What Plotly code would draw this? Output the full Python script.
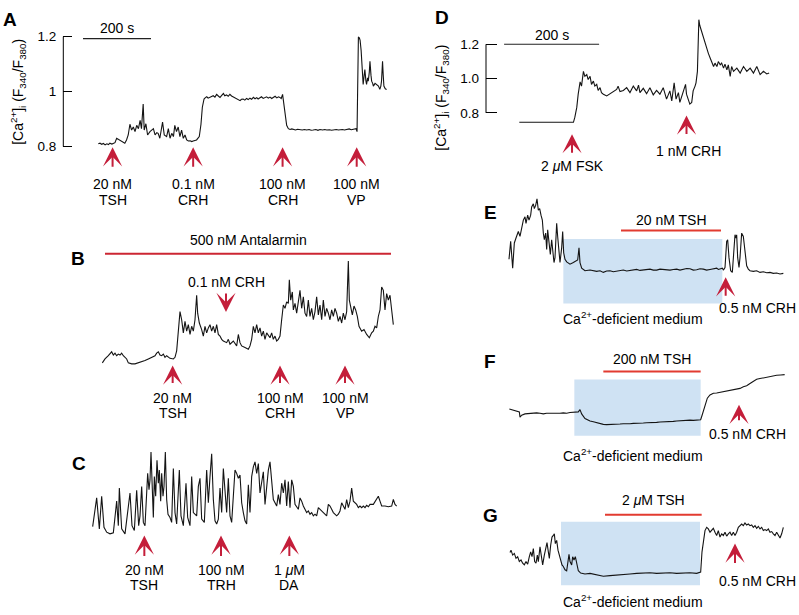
import plotly.graph_objects as go

W, H = 799, 615
FONT = "Liberation Sans, Arial, Helvetica, sans-serif"
ARROW_RED = "#c41e3a"
BAR_RED_B = "#cc2633"
BAR_RED = "#e23b30"
BLUE = "#cfe2f3"

# ---------------- data ----------------
# Panel A: time (s) and [Ca2+]i ratio F340/F380
A_t = [0, 5, 10, 15, 20, 25, 30, 34, 40, 44, 49, 54, 59, 64, 69, 74, 78, 83, 88, 93, 98, 103, 108, 113,
       118, 123, 127, 132, 135, 140, 145, 152, 157, 162, 167, 172, 176, 181, 189, 194, 201, 206, 211,
       216, 221, 225, 230, 235, 240, 245, 250, 255, 260, 265, 270, 275, 279, 284, 289, 297, 302, 306,
       311, 315, 319, 323, 328, 333, 338, 343, 348, 353, 358, 363, 368, 372, 377, 382, 387, 392, 397,
       402, 407, 412, 417, 421, 426, 431, 436, 441, 446, 451, 456, 461, 466, 470, 475, 480, 485, 490,
       495, 500, 505, 510, 515, 520, 525, 530, 534, 538, 542, 546, 550, 554, 559, 564, 569, 574, 580,
       586, 593, 600, 606, 613, 620, 626, 632, 640, 646, 652, 660, 666, 672, 680, 686, 691, 700, 706,
       711, 718, 724, 730, 738, 744, 750, 755, 758, 761, 763, 765, 768, 770, 773, 775, 777, 779, 782,
       784, 787, 789, 792, 794, 797, 799, 802, 804, 807, 809, 814, 819, 824, 828, 831, 833, 836, 838,
       840, 844, 848]
A_ratio = [.810, .812, .808, .811, .806, .810, .807, .812, .809, .810, .814, .830, .826, .822, .821, .816,
           .812, .824, .842, .881, .860, .871, .854, .877, .865, .895, .865, .955, .860, .883, .842, .854,
           .860, .865, .842, .850, .848, .830, .889, .842, .836, .865, .830, .848, .836, .877, .854, .871,
           .836, .860, .830, .842, .824, .820, .821, .818, .820, .821, .824, .836, .881, .943, .973, .978,
           .981, .976, .979, .983, .985, .980, .990, .984, .979, .986, .993, .985, .988, .983, .990, .984,
           .981, .976, .973, .970, .967, .972, .973, .969, .975, .971, .976, .972, .979, .974, .978, .973,
           .976, .981, .975, .979, .981, .976, .980, .975, .979, .983, .977, .981, .979, .975, .990, .955,
           .907, .877, .865, .862, .864, .862, .860, .863, .862, .860, .862, .860, .862, .859, .860, .862,
           .859, .862, .860, .862, .860, .861, .859, .860, .862, .860, .861, .862, .860, .862, .864, .861,
           .863, .862, .865, .854, 1.014, 1.199, 1.195, 1.187, 1.150, 1.098, 1.060, 1.026, 1.060, 1.080,
           1.040, 1.026, 1.050, 1.038, 1.070, 1.110, 1.060, 1.038, 1.030, 1.020, 1.030, 1.026, 1.020,
           1.008, 1.020, 1.038, 1.110, 1.060, 1.020, 1.010, 1.008]
A_ticks = [0.8, 1.0, 1.2]
A_ticktext = ["0.8", "1", "1.2"]
A_scalebar_s = [-45, 155]
A_arrow_t = [42, 279, 542, 760]
A_arrow_lbl = [("20 nM", "TSH"), ("0.1 nM", "CRH"), ("100 nM", "CRH"), ("100 nM", "VP")]

# Panel B: time (s), amplitude (a.u.)
B_t = [0, 8, 18, 23, 28, 33, 38, 43, 48, 53, 58, 63, 68, 73, 78, 88, 98, 108, 118, 128, 138, 148, 158,
       163, 168, 173, 178, 183, 188, 193, 198, 203, 213, 218, 223, 228, 233, 238, 243, 248, 253, 258,
       263, 268, 273, 278, 283, 286, 291, 298, 303, 308, 313, 318, 323, 328, 333, 338, 343, 348, 353,
       358, 363, 373, 378, 383, 393, 403, 408, 413, 418, 428, 438, 443, 448, 453, 458, 463, 468, 473,
       478, 483, 488, 493, 498, 503, 508, 513, 518, 523, 528, 533, 538, 543, 548, 553, 558, 561, 565,
       570, 573, 578, 583, 588, 593, 598, 603, 608, 613, 618, 623, 628, 633, 638, 643, 648, 653, 658,
       663, 668, 673, 678, 683, 688, 693, 698, 703, 708, 713, 718, 723, 728, 733, 738, 741, 745, 750,
       755, 760, 765, 770, 778, 785, 793, 801, 808, 813, 818, 823, 828, 833, 838, 843, 848, 853, 858,
       863, 868, 873]
B_amp = [-2, 10, 20, 28, 32, 22, 28, 20, 25, 22, 28, 20, 15, 10, -2, -5, -5, -2, 0, 5, 10, 15, 20, 28,
         32, 22, 20, 25, 15, 20, 15, 12, 10, 15, 35, 90, 155, 130, 90, 125, 95, 115, 85, 110, 95, 130,
         205, 150, 120, 100, 80, 110, 90, 105, 115, 95, 110, 90, 115, 85, 80, 70, 65, 60, 70, 55, 65,
         50, 85, 60, 50, 45, 40, 50, 70, 110, 90, 115, 90, 105, 80, 95, 70, 90, 80, 75, 90, 70, 80, 65,
         70, 80, 130, 175, 165, 185, 180, 252, 190, 215, 160, 180, 150, 185, 220, 165, 200, 150, 140,
         190, 140, 165, 130, 155, 200, 145, 175, 130, 190, 140, 165, 150, 130, 160, 140, 165, 150, 125,
         140, 120, 150, 130, 155, 310, 190, 170, 145, 172, 160, 140, 110, 95, 100, 85, 75, 90, 95, 110,
         105, 140, 160, 230, 220, 160, 210, 190, 205, 160, 115]
B_antalarmin_s = [8, 866]
B_crh_down_t = 371
B_arrow_t = [211, 533, 728]
B_arrow_lbl = [("20 nM", "TSH"), ("100 nM", "CRH"), ("100 nM", "VP")]

# Panel C: time (s), amplitude (a.u.)
C_t = [0, 12, 20, 27, 34, 42, 52, 62, 72, 77, 80, 87, 97, 107, 112, 118, 125, 132, 138, 142, 147, 152,
       157, 162, 165, 169, 172, 175, 179, 182, 185, 189, 193, 197, 200, 204, 207, 211, 214, 218, 222,
       226, 232, 237, 242, 247, 252, 260, 265, 272, 280, 285, 292, 297, 302,
       312, 317, 322, 327, 335, 342, 347, 352, 357, 362, 367, 372, 377, 382, 387, 392, 397, 402, 407,
       412, 417, 422, 427, 432, 437, 442, 447, 452, 457, 462, 467, 472, 477, 482, 487, 492, 497, 502,
       507, 512, 517, 522, 527, 532, 537, 542, 547, 552, 557, 562, 567, 572, 577, 582, 587, 592, 597,
       602, 607, 617,
       622, 627, 632, 637, 642, 647, 652, 657, 662, 667, 672, 677, 682, 687, 692, 697, 702, 707, 712,
       717, 722, 732, 737, 742, 747, 752, 757, 762, 767, 772, 777, 782, 787, 792, 797, 802, 807, 812,
       817, 822, 827, 832, 842, 852, 857, 862, 867, 877, 887, 897, 902, 907, 912]
C_amp = [22, 110, 15, 115, 20, 5, 0, 3, 100, 25, 140, 15, 0, 95, 125, 25, 10, 133, 25, 55, 145, 35, 25,
         125, 185, 135, 165, 250, 115, 50, 175, 115, 225, 155, 195, 100, 185, 115, 145, 250, 105, 60,
         50, 35, 200, 65, 30, 195, 55, 25, 155, 50, 25, 175, 65,
         55, 145, 170, 45, 35, 195, 95, 175, 245, 105, 40, 30, 45, 140, 65, 200, 115, 65, 170, 55, 35,
         105, 195, 185, 170, 180, 95, 65, 40, 30, 150, 65, 175, 205, 220, 185, 215, 125, 165, 190, 90,
         155, 195, 220, 170, 105, 95, 85, 120, 90, 155, 125, 165, 85, 160, 80, 165, 145, 90, 75,
         110, 100, 85, 75, 65, 70, 60, 65, 55, 60, 55, 80, 75, 70, 65, 60, 55, 90, 85, 75, 65, 55, 60,
         70, 95, 85, 75, 105, 80, 100, 140, 100, 95, 90, 80, 85, 80, 85, 80, 87, 83, 90, 90, 105, 115,
         100, 85, 85, 83, 85, 105, 90, 85]
C_arrow_t = [155, 385, 590]
C_arrow_lbl = [("20 nM", "TSH"), ("100 nM", "TRH"), ("1 <i>\u03bc</i>M", "DA")]

# Panel D: time (s) and ratio
D_t = [0, 29, 65, 100, 114, 117, 121, 124, 128, 131, 135, 138, 142, 145, 149, 152, 156, 159, 163, 166,
       170, 173, 177, 184, 191, 198, 205, 208, 212, 219, 226, 233, 240, 247, 251, 254, 261, 268, 275,
       282, 289, 296, 303, 310, 317, 321, 326, 330, 335, 338, 344, 350, 352, 359, 363, 366, 370, 372,
       375, 378, 380, 384, 388, 391, 395, 398, 402, 405, 409, 412, 416, 419, 423, 426, 430, 433, 437,
       440, 444, 447, 451, 458, 465, 472, 479, 486, 493, 500, 507, 514, 521, 526]
D_ratio = [.745, .744, .745, .743, .745, .775, .832, .909, .981, .956, 1.042, 1.013, 1.023, .994, 1.013,
           .966, .985, .956, .966, .931, .947, .918, .909, .899, .912, .924, .937, .956, .924, .931, .947,
           .918, .956, .928, .962, .918, .943, .912, .947, .905, .931, .909, .947, .880, .928, .870, .975,
           .880, .918, .861, .918, .966, .909, .851, .861, .928, .956, .975, 1.042, 1.343, 1.309, 1.270,
           1.232, 1.204, 1.175, 1.147, 1.118, 1.099, 1.070, 1.090, 1.070, 1.099, 1.080, 1.090, 1.061,
           1.084, 1.051, 1.080, 1.013, 1.070, 1.042, 1.061, 1.032, 1.070, 1.042, 1.061, 1.032, 1.070,
           1.023, 1.042, 1.027, 1.032]
D_ticks = [0.8, 1.0, 1.2]
D_ticktext = ["0.8", "1.0", "1.2"]
D_scalebar_s = [-32, 168]
D_arrow_t = [111, 352]

# Panel E: time (s), amplitude (a.u.)
E_t = [0, 5, 11, 16, 21, 25, 28, 33, 38, 43, 48, 51, 56, 60, 65, 68, 73, 76, 80, 84, 88, 92, 96, 100,
       103, 106, 110, 113, 116, 120, 124, 128, 131, 135, 138, 143, 146, 150, 153, 158, 161, 164, 168,
       173, 183, 193, 201, 206, 210, 213, 218, 228, 243, 253, 263, 273, 283, 293, 303, 313, 323, 333,
       343, 353, 363, 373, 383, 393, 403, 413, 423, 433, 443, 453, 463, 473, 483, 493, 503, 513, 523,
       533, 543, 553, 563, 573, 583, 593, 603, 613, 623, 628, 633, 640, 643, 648, 653, 656, 660, 665,
       670, 673, 678, 681, 683, 686, 690, 693, 698, 703, 708, 713, 718, 723, 733, 743, 753, 763, 773,
       783, 793, 803, 813, 823]
E_amp = [40, 95, 13, 90, 105, 115, 125, 110, 140, 160, 170, 150, 175, 160, 175, 200, 210, 195, 205, 225,
         190, 195, 175, 160, 120, 100, 120, 70, 130, 85, 55, 100, 60, 30, 45, 150, 110, 45, 30, 75, 125,
         60, 40, 32, 25, 30, 35, 38, 75, 30, 13, 5, 7, 4, 3, 5, 0, 4, 5, 2, 3, 6, 7, 4, 5, 8, 9, 6, 7, 9,
         10, 7, 7, 10, 9, 6, 7, 9, 10, 7, 9, 12, 11, 7, 8, 11, 10, 7, 9, 11, 13, 9, 10, 13, 7, 15, 95,
         100, 45, 5, 0, 35, 115, 105, 115, 45, 15, 45, 120, 110, 55, 20, 10, 5, 3, 5, 0, 2, -1, 0, -3,
         -2, -5, -3]
E_medium_s = [163, 640]
E_tsh_s = [336, 636]
E_arrow_t = 650

# Panel F: time (s), amplitude (a.u.)
F_t = [0, 7, 17, 27, 30, 32, 37, 47, 62, 72, 82, 92, 102, 112, 122, 132, 142, 152, 162, 172, 182, 197,
       207, 212, 217, 227, 242, 252, 262, 272, 282, 292, 302, 312, 322, 332, 342, 352, 362, 372, 382,
       392, 402, 412, 422, 432, 442, 452, 462, 472, 482, 492, 502, 512, 522, 532, 542, 552, 562, 574,
       579, 587, 594, 602, 612, 622, 632, 642, 652, 662, 672, 682, 692, 702, 712, 722, 732, 742, 752,
       762, 772, 782, 792, 802, 814, 826]
F_amp = [57, 55, 52, 50, 48, 32, 38, 42, 44, 43, 45, 44, 42, 44, 44, 43, 42, 44, 45, 44, 46, 47, 48, 55,
         42, 28, 20, 18, 15, 13, 10, 9, 9, 10, 10, 11, 12, 11, 12, 13, 13, 12, 14, 15, 15, 14, 16, 17,
         17, 18, 19, 19, 20, 21, 22, 22, 23, 22, 23, 24, 40, 70, 90, 100, 105, 106, 108, 110, 112, 113,
         115, 117, 120, 125, 128, 135, 142, 148, 150, 152, 155, 158, 158, 160, 161, 162]
F_medium_s = [195, 574]
F_tsh_s = [282, 574]
F_arrow_t = 689

# Panel G: time (s), amplitude (a.u.)
G_t = [0, 3, 8, 13, 18, 23, 28, 33, 38, 43, 48, 53, 58, 62, 66, 70, 74, 78, 82, 85, 90, 94, 98, 103,
       107, 111, 115, 118, 122, 126, 130, 133, 136, 140, 144, 148, 152, 156, 160, 165, 170, 174, 177,
       180, 185, 188, 192, 196, 200, 205, 212, 225, 240, 260, 280, 300, 320, 340, 360, 380, 400, 420,
       440, 460, 480, 500, 520, 540, 560, 572, 576, 580, 585, 590, 595, 600, 605, 610, 615, 620, 625,
       630, 635, 640, 645, 650, 655, 660, 665, 670, 675, 680, 685, 690, 695, 700, 705, 710, 715, 720,
       725, 730, 735, 740, 745, 750, 755, 760, 765, 770, 775, 780, 785, 790, 795, 800, 805, 810, 815,
       820]
G_amp = [68, 75, 60, 65, 50, 55, 40, 45, 35, 30, 40, 32, 55, 70, 55, 80, 40, 35, 60, 40, 85, 55, 30, 60,
         80, 98, 70, 50, 90, 115, 120, 125, 95, 105, 75, 60, 45, 30, 25, 15, 12, 35, 62, 40, 30, 55, 45,
         55, 30, 12, 5, 2, 4, 0, -5, -3, -2, 0, 2, 4, 5, 6, 4, 5, 6, 4, 5, 6, 4, 8, 70, 105, 135, 145,
         140, 130, 135, 142, 130, 120, 135, 115, 125, 120, 130, 118, 125, 130, 120, 130, 120, 130, 145,
         150, 155, 150, 158, 152, 155, 150, 152, 145, 150, 142, 148, 140, 145, 135, 138, 135, 140, 130,
         132, 125, 120, 130, 120, 112, 125, 145]
G_medium_s = [153, 570]
G_tsh_s = [285, 575]
G_arrow_t = 675


# ---------------- helpers (pixel layout -> paper fractions) ----------------
def fx(px):
    return px / W


def fy(py):
    return 1 - py / H


def xrange_from(px0, px1, px_ref, t_ref, s):
    return [t_ref + (px0 - px_ref) / s, t_ref + (px1 - px_ref) / s]


def yrange_from(py0, py1, py_ref, v_ref, s):
    return [v_ref - (py1 - py_ref) / s, v_ref + (py_ref - py0) / s]


fig = go.Figure()
layout = dict(width=W, height=H, margin=dict(l=0, r=0, t=0, b=0), autosize=False,
              paper_bgcolor="white", plot_bgcolor="rgba(0,0,0,0)", showlegend=False,
              font=dict(family=FONT, size=14, color="black"))

# name, t, v, x-domain px, y-domain px, x-map (px at t_ref, t_ref, px/unit), y-map (py at v_ref, v_ref, px/unit)
panels = [
    ("A", A_t, A_ratio, (63.3, 399), (29.9, 144.7), (98.3, 0, 0.34), (143.3, 0.8, 280)),
    ("B", B_t, B_amp, (100, 400), (255, 372), (102.33, 0, 1 / 3), (363.33, 0, 1 / 3)),
    ("C", C_t, C_amp, (85, 400), (450, 545), (92.67, 0, 1 / 3), (538.33, 0, 1 / 3)),
    ("D", D_t, D_ratio, (486, 799), (10, 135), (519.3, 0, 0.475), (109, 0.8, 175)),
    ("E", E_t, E_amp, (495, 799), (183, 305), (509, 0, 1 / 3), (271.67, 0, 1 / 3)),
    ("F", F_t, F_amp, (495, 799), (372, 435), (509.33, 0, 1 / 3), (430, 0, 1 / 3)),
    ("G", G_t, G_amp, (495, 799), (522, 590), (510, 0, 1 / 3), (580, 0, 1 / 3)),
]
for i, (name, t, v, xd, yd, xm, ym) in enumerate(panels, start=1):
    xa = "x" if i == 1 else f"x{i}"
    ya = "y" if i == 1 else f"y{i}"
    fig.add_trace(go.Scatter(x=t, y=v, mode="lines", line=dict(color="#141414", width=1.1),
                             xaxis=xa, yaxis=ya, hoverinfo="skip", showlegend=False))
    xkey = "xaxis" if i == 1 else f"xaxis{i}"
    ykey = "yaxis" if i == 1 else f"yaxis{i}"
    layout[xkey] = dict(domain=[fx(xd[0]), fx(xd[1])], range=xrange_from(xd[0], xd[1], *xm),
                        visible=False, anchor=ya, fixedrange=True)
    layout[ykey] = dict(domain=[fy(yd[1]), fy(yd[0])], range=yrange_from(yd[0], yd[1], *ym),
                        visible=False, anchor=xa, fixedrange=True)

# visible ratio axes for A and D (ticks only; axis line drawn between the outer ticks)
for key, tv, tt, tl in (("yaxis", A_ticks, A_ticktext, 8.5), ("yaxis4", D_ticks, D_ticktext, 10.5)):
    layout[key].update(visible=True, showline=False, showgrid=False, zeroline=False,
                       ticks="inside", ticklen=tl, tickwidth=1, tickcolor="black",
                       tickvals=tv, ticktext=tt, tickfont=dict(size=13.5, family=FONT, color="black"),
                       ticklabelstandoff=6)

shapes = []
annotations = []

# axis lines for A and D
shapes.append(dict(type="line", xref="paper", yref="y", x0=fx(63.3), x1=fx(63.3),
                   y0=A_ticks[0], y1=A_ticks[-1], line=dict(color="black", width=1)))
shapes.append(dict(type="line", xref="paper", yref="y4", x0=fx(486), x1=fx(486),
                   y0=D_ticks[0], y1=D_ticks[-1], line=dict(color="black", width=1)))

# scale bars
shapes.append(dict(type="line", xref="x", yref="paper", x0=A_scalebar_s[0], x1=A_scalebar_s[1],
                   y0=fy(33.3), y1=fy(33.3), line=dict(color="#222", width=1.2)))
shapes.append(dict(type="line", xref="x4", yref="paper", x0=D_scalebar_s[0], x1=D_scalebar_s[1],
                   y0=fy(39), y1=fy(39), line=dict(color="#222", width=1.2)))


def text(x, y, s, xr="paper", size=14, bold=False, angle=0):
    return dict(x=x, y=y, xref=xr, yref="paper", text=f"<b>{s}</b>" if bold else s,
                showarrow=False, xanchor="center", yanchor="middle", textangle=angle,
                font=dict(family=FONT, size=size, color="black"))


def arrow(xr, t, tip_py, length):
    return dict(x=t, y=fy(tip_py), xref=xr, yref="paper", ax=0, ay=length, text="",
                showarrow=True, arrowhead=3, arrowsize=1.6, arrowwidth=2,
                arrowcolor=ARROW_RED, standoff=0)


annotations.append(text(sum(A_scalebar_s) / 2, fy(22), "200 s", xr="x"))
annotations.append(text(sum(D_scalebar_s) / 2, fy(30), "200 s", xr="x4"))

ytitle = "[Ca<sup>2+</sup>]<sub>i</sub> (F<sub>340</sub>/F<sub>380</sub>)"
annotations.append(text(fx(18), fy(87.5), ytitle, angle=-90))
annotations.append(text(fx(441), fy(93.5), ytitle, angle=-90))

# panel letters
for letter, cx, cy in (("A", 10, 13.5), ("D", 442, 12), ("B", 77.5, 257.5), ("C", 78.5, 466.5),
                       ("E", 490, 211), ("F", 490, 363), ("G", 490, 519.5)):
    annotations.append(text(fx(cx), fy(cy), letter, size=19, bold=True))

# panel A arrows
for t, (l1, l2) in zip(A_arrow_t, A_arrow_lbl):
    annotations.append(arrow("x", t, 144, 21))
    annotations.append(text(t, fy(181.7), l1, xr="x"))
    annotations.append(text(t, fy(197.7), l2, xr="x"))

# panel B
shapes.append(dict(type="line", xref="x2", yref="paper", x0=B_antalarmin_s[0], x1=B_antalarmin_s[1],
                   y0=fy(252.7), y1=fy(252.7), line=dict(color=BAR_RED_B, width=2)))
annotations.append(text(sum(B_antalarmin_s) / 2, fy(239), "500 nM Antalarmin", xr="x2"))
annotations.append(arrow("x2", B_crh_down_t, 312, -20))
annotations.append(text(B_crh_down_t, fy(281), "0.1 nM CRH", xr="x2"))
for t, (l1, l2) in zip(B_arrow_t, B_arrow_lbl):
    annotations.append(arrow("x2", t, 366.7, 19))
    annotations.append(text(t, fy(399.5), l1, xr="x2"))
    annotations.append(text(t, fy(415.5), l2, xr="x2"))

# panel C
for t, (l1, l2) in zip(C_arrow_t, C_arrow_lbl):
    annotations.append(arrow("x3", t, 540, 22))
    annotations.append(text(t, fy(575), l1, xr="x3"))
    annotations.append(text(t, fy(591), l2, xr="x3"))

# panel D
annotations.append(arrow("x4", D_arrow_t[0], 130.7, 20))
annotations.append(text(D_arrow_t[0], fy(163.3), "2 <i>\u03bc</i>M FSK", xr="x4"))
annotations.append(arrow("x4", D_arrow_t[1], 111.7, 20))
annotations.append(text(fx(688.3), fy(148), "1 nM CRH"))

# panels E, F, G
efg = [
    ("x5", E_medium_s, E_tsh_s, E_arrow_t, (237.7, 303.3), 229, "20 nM TSH", 218.7,
     (276.7, 20), (757, 308.3), (633, 318)),
    ("x6", F_medium_s, F_tsh_s, F_arrow_t, (381, 438.3), 372.7, "200 nM TSH", 360,
     (406.7, 17), (747, 436.7), (633, 458)),
    ("x7", G_medium_s, G_tsh_s, G_arrow_t, (526, 590.7), 519, "2 <i>\u03bc</i>M TSH", 504.3,
     (548.3, 21), (757.5, 586.7), (633, 606.5)),
]
for xr, med, tsh, at, boxy, bar_y, tsh_lbl, tsh_ly, (tip, ln), crh_xy, ca_xy in efg:
    shapes.append(dict(type="rect", xref=xr, yref="paper", x0=med[0], x1=med[1],
                       y0=fy(boxy[1]), y1=fy(boxy[0]), fillcolor=BLUE, line=dict(width=0),
                       layer="below"))
    shapes.append(dict(type="line", xref=xr, yref="paper", x0=tsh[0], x1=tsh[1],
                       y0=fy(bar_y), y1=fy(bar_y), line=dict(color=BAR_RED, width=2)))
    annotations.append(text(sum(tsh) / 2, fy(tsh_ly), tsh_lbl, xr=xr))
    annotations.append(arrow(xr, at, tip, ln))
    annotations.append(text(fx(crh_xy[0]), fy(crh_xy[1]), "0.5 nM CRH"))
    annotations.append(text(fx(ca_xy[0]), fy(ca_xy[1]), "Ca<sup>2+</sup>-deficient medium"))

layout["shapes"] = shapes
layout["annotations"] = annotations
fig.update_layout(**layout)
fig.write_html("out.html", config={"displayModeBar": False, "staticPlot": True},
               post_script="document.body.style.margin='0';document.body.style.padding='0';"
                           "document.documentElement.style.overflow='hidden';")
